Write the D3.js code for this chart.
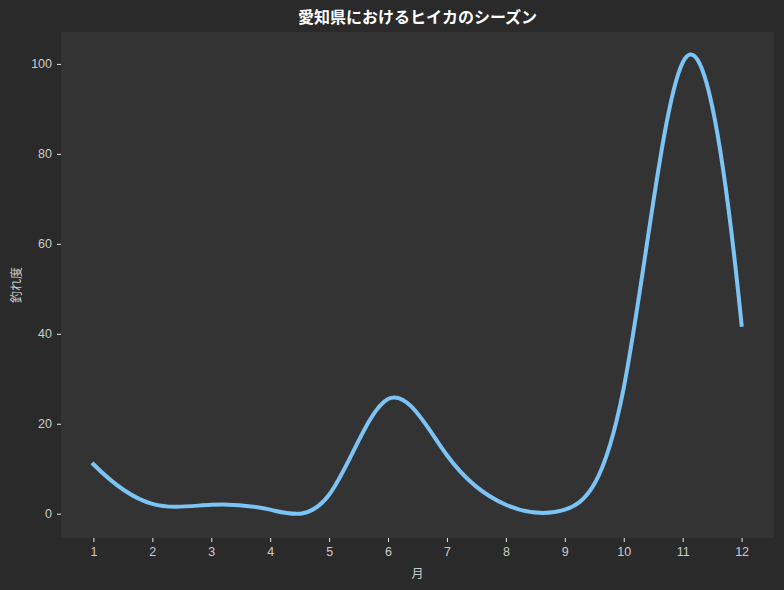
<!DOCTYPE html>
<html>
<head>
<meta charset="utf-8">
<script src="https://cdn.jsdelivr.net/npm/d3@7"></script>
<style>
  html, body { margin: 0; padding: 0; background: #2a2a2a; }
  svg { display: block; font-family: "Noto Sans CJK JP", "Noto Sans", sans-serif; }
</style>
</head>
<body>
<div id="chart"></div>
<script>
// Monthly fishing score for ヒイカ in Aichi
const months = [1, 2, 3, 4, 5, 6, 7, 8, 9, 10, 11, 12];
const scores = [11, 2.2, 2, 0.9, 4.2, 25.5, 13, 2, 0.9, 28, 100.3, 42];
const yTicks = [0, 20, 40, 60, 80, 100];

const title = "愛知県におけるヒイカのシーズン";
const xLabel = "月";
const yLabel = "釣れ度";

const width = 784;
const height = 590;
const margin = { top: 32, right: 10, bottom: 52, left: 61 };
const innerW = width - margin.left - margin.right;
const innerH = height - margin.top - margin.bottom;

// Cubic spline curve factory; end curvature = runout * neighbour curvature
// (0 = natural spline, 1 = parabolic runout)
function curveSpline(runout) {
  return function(context) {
    let xs, ys;
    return {
      areaStart() {}, areaEnd() {},
      lineStart() { xs = []; ys = []; },
      point(px, py) { xs.push(+px); ys.push(+py); },
      lineEnd() {
        const n = xs.length;
        if (n === 0) return;
        context.moveTo(xs[0], ys[0]);
        if (n < 3) {
          for (let i = 1; i < n; i++) context.lineTo(xs[i], ys[i]);
          return;
        }
        const h = [];
        for (let i = 0; i < n - 1; i++) h.push(xs[i + 1] - xs[i]);
        const A = Array.from({ length: n }, () => new Array(n).fill(0));
        const b = new Array(n).fill(0);
        A[0][0] = 1; A[0][1] = -runout;
        for (let i = 1; i < n - 1; i++) {
          A[i][i - 1] = h[i - 1];
          A[i][i] = 2 * (h[i - 1] + h[i]);
          A[i][i + 1] = h[i];
          b[i] = 6 * ((ys[i + 1] - ys[i]) / h[i] - (ys[i] - ys[i - 1]) / h[i - 1]);
        }
        A[n - 1][n - 1] = 1; A[n - 1][n - 2] = -runout;
        // gaussian elimination
        for (let c = 0; c < n; c++) {
          let p = c;
          for (let r = c + 1; r < n; r++) if (Math.abs(A[r][c]) > Math.abs(A[p][c])) p = r;
          [A[c], A[p]] = [A[p], A[c]]; [b[c], b[p]] = [b[p], b[c]];
          for (let r = c + 1; r < n; r++) {
            const f = A[r][c] / A[c][c];
            for (let j = c; j < n; j++) A[r][j] -= f * A[c][j];
            b[r] -= f * b[c];
          }
        }
        const M = new Array(n).fill(0);
        for (let r = n - 1; r >= 0; r--) {
          let s = b[r];
          for (let j = r + 1; j < n; j++) s -= A[r][j] * M[j];
          M[r] = s / A[r][r];
        }
        for (let i = 0; i < n - 1; i++) {
          const hi = h[i];
          const d = (ys[i + 1] - ys[i]) / hi;
          const s0 = d - hi * (2 * M[i] + M[i + 1]) / 6;
          const s1 = d + hi * (M[i] + 2 * M[i + 1]) / 6;
          context.bezierCurveTo(
            xs[i] + hi / 3, ys[i] + s0 * hi / 3,
            xs[i + 1] - hi / 3, ys[i + 1] - s1 * hi / 3,
            xs[i + 1], ys[i + 1]
          );
        }
      }
    };
  };
}

const svg = d3.select("#chart")
  .append("svg")
  .attr("width", width)
  .attr("height", height);

svg.append("rect")
  .attr("width", width)
  .attr("height", height)
  .attr("fill", "#2a2a2a");

const g = svg.append("g")
  .attr("transform", `translate(${margin.left},${margin.top})`);

g.append("rect")
  .attr("width", innerW)
  .attr("height", innerH)
  .attr("fill", "#333333");

const x = d3.scaleLinear().domain([0.45, 12.55]).range([0, innerW]);
const y = d3.scaleLinear().domain([-5.4, 107.1]).range([innerH, 0]);

// axes
const xAxis = g.append("g")
  .attr("transform", `translate(0,${innerH})`)
  .call(d3.axisBottom(x).tickValues(months).tickFormat(d3.format("d")).tickSize(4).tickPadding(5));

const yAxis = g.append("g")
  .call(d3.axisLeft(y).tickValues(yTicks).tickFormat(d3.format("d")).tickSize(4).tickPadding(5));

[xAxis, yAxis].forEach(ax => {
  ax.select(".domain").remove();
  ax.selectAll(".tick line").attr("stroke", "#e6e6e6").attr("stroke-width", 1);
  ax.selectAll(".tick text")
    .attr("fill", "#cccccc")
    .style("font-size", "12.5px");
});

// smooth curve
const line = d3.line()
  .x((d, i) => x(months[i]))
  .y(d => y(d))
  .curve(curveSpline(0.6));

g.append("path")
  .datum(scores)
  .attr("fill", "none")
  .attr("stroke", "#7cc4f5")
  .attr("stroke-width", 4)
  .attr("stroke-linecap", "square")
  .attr("d", line);

// title and labels
svg.append("text")
  .attr("x", margin.left + innerW / 2)
  .attr("y", 23)
  .attr("text-anchor", "middle")
  .attr("fill", "#ffffff")
  .style("font-size", "16px")
  .style("font-weight", "bold")
  .text(title);

svg.append("text")
  .attr("x", margin.left + innerW / 2)
  .attr("y", 578)
  .attr("text-anchor", "middle")
  .attr("fill", "#cccccc")
  .style("font-size", "12px")
  .text(xLabel);

svg.append("text")
  .attr("transform", `translate(21,${margin.top + innerH / 2}) rotate(-90)`)
  .attr("text-anchor", "middle")
  .attr("fill", "#cccccc")
  .style("font-size", "12px")
  .text(yLabel);
</script>
</body>
</html>
